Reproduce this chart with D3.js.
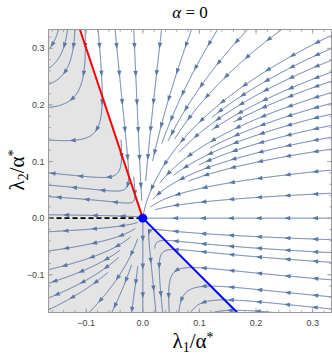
<!DOCTYPE html>
<html>
<head>
<meta charset="utf-8">
<script src="https://cdn.jsdelivr.net/npm/d3@7"></script>
<style>
  body { margin: 0; background: #fff; }
  svg { display: block; }
</style>
</head>
<body>
<div id="chart"></div>
<script>
// 流线图：λ1/α* 与 λ2/α* 的相图 (α = 0)

const DOMAIN = [-1 / 6, 1 / 3];
const xTicks = [-0.1, 0.0, 0.1, 0.2, 0.3];
const yTicks = [-0.1, 0.0, 0.1, 0.2, 0.3];
const tickLabels = ['−0.1', '0.0', '0.1', '0.2', '0.3'];

// 向量场系数: dλ1 = -λ1(a λ1 + λ2), dλ2 = -λ2(λ1 + λ2)
const fieldA = 3;

// 边界线
const redLine = [[0, 0], [-1 / 9, 1 / 3]];
const blueLine = [[0, 0], [1 / 6, -1 / 6]];
const dashedLine = [[-1 / 6, 0], [0, 0]];

// 流线种子点
const axisSeeds = [[0.333, 0.0], [0.0, -0.166]];
const topSeeds = [[-0.149, 0.333], [-0.133, 0.333], [-0.120, 0.333], [-0.104, 0.26],
    [-0.079, 0.333], [-0.049, 0.333], [-0.016, 0.333], [0.030, 0.306],
    [0.086, 0.333], [0.132, 0.333], [0.185, 0.333], [0.245, 0.333]];
const rightSeedY = [0.323, 0.300, 0.279, 0.258, 0.242, 0.222, 0.203, 0.184, 0.164,
    0.143, 0.122, 0.085, 0.044, -0.038, -0.061, -0.078, -0.109, -0.139];
const leftSeedY = [0.080, 0.053, 0.038, 0.006, -0.024, -0.058, -0.091, -0.115, -0.141, -0.162];
const bottomSeedX = [-0.095, -0.055, -0.020, 0.025, 0.052, 0.065, 0.085, 0.124];

const W = 332, H = 357;
const x = d3.scaleLinear().domain(DOMAIN).range([48.5, 331.5]);
const y = d3.scaleLinear().domain(DOMAIN).range([312.5, 29.5]);

function field(a, b) {
    return [-a * (fieldA * a + b), -b * (a + b)];
}

function inside(p) {
    const e = 1e-4;
    return p[0] >= DOMAIN[0] - e && p[0] <= DOMAIN[1] + e && p[1] >= DOMAIN[0] - e && p[1] <= DOMAIN[1] + e;
}

function dir(p, sgn) {
    const f = field(p[0], p[1]);
    const n = Math.hypot(f[0], f[1]);
    if (n < 1e-12) return null;
    return [sgn * f[0] / n, sgn * f[1] / n];
}

// 已绘制流线的占用网格，用于在流线过于接近时停止
const CELL = 6;
const SEP = 5;
const grid = new Map();
function key(i, j) { return i + ',' + j; }
function tooClose(p) {
    const X = x(p[0]), Y = y(p[1]);
    const i = Math.floor(X / CELL), j = Math.floor(Y / CELL);
    for (let a = -1; a <= 1; a++) {
        for (let b = -1; b <= 1; b++) {
            const list = grid.get(key(i + a, j + b));
            if (!list) continue;
            for (const q of list) {
                if (Math.hypot(q[0] - X, q[1] - Y) < SEP) return true;
            }
        }
    }
    return false;
}
function addToGrid(line) {
    line.forEach(p => {
        const X = x(p[0]), Y = y(p[1]);
        const k = key(Math.floor(X / CELL), Math.floor(Y / CELL));
        if (!grid.has(k)) grid.set(k, []);
        grid.get(k).push([X, Y]);
    });
}

function trace(seed, sgn) {
    const pts = [];
    let p = seed.slice();
    const h = 0.0012;
    for (let i = 0; i < 4000; i++) {
        if (Math.hypot(p[0], p[1]) < 0.008) break;
        const d1 = dir(p, sgn);
        if (!d1) break;
        const mid = [p[0] + d1[0] * h / 2, p[1] + d1[1] * h / 2];
        const d2 = dir(mid, sgn);
        if (!d2) break;
        const q = [p[0] + d2[0] * h, p[1] + d2[1] * h];
        if (!inside(q) || tooClose(q)) break;
        pts.push(q);
        p = q;
    }
    return pts;
}

function streamline(seed) {
    if (tooClose(seed)) return [];
    const back = trace(seed, -1).reverse();
    const fwd = trace(seed, 1);
    const l = back.concat([seed], fwd);
    addToGrid(l);
    return l;
}

const seeds = []
    .concat(axisSeeds)
    .concat(rightSeedY.map(v => [DOMAIN[1], v]))
    .concat(topSeeds)
    .concat(leftSeedY.map(v => [DOMAIN[0], v]))
    .concat(bottomSeedX.map(v => [v, DOMAIN[0]]));

const lines = seeds.map(streamline).filter(l => l.length > 6);

const svg = d3.select('#chart').append('svg')
    .attr('width', W)
    .attr('height', H);

svg.append('clipPath').attr('id', 'clip')
    .append('rect')
    .attr('x', x(DOMAIN[0])).attr('y', y(DOMAIN[1]))
    .attr('width', x(DOMAIN[1]) - x(DOMAIN[0]))
    .attr('height', y(DOMAIN[0]) - y(DOMAIN[1]));

const plot = svg.append('g').attr('clip-path', 'url(#clip)');

// 灰色区域
const grayPoly = [[DOMAIN[0], DOMAIN[1]], redLine[1], [0, 0], blueLine[1], [DOMAIN[0], DOMAIN[0]]];
plot.append('path')
    .attr('d', 'M' + grayPoly.map(p => [x(p[0]), y(p[1])].join(',')).join('L') + 'Z')
    .attr('fill', '#e4e4e4');

// 流线
const lineGen = d3.line().x(d => x(d[0])).y(d => y(d[1]));
const streamColor = '#5b78a6';

plot.selectAll('.stream')
    .data(lines)
    .enter()
    .append('path')
    .attr('class', 'stream')
    .attr('d', lineGen)
    .attr('fill', 'none')
    .attr('stroke', streamColor)
    .attr('stroke-width', 1);

// 箭头
const arrows = [];
lines.forEach(l => {
    const px = l.map(p => [x(p[0]), y(p[1])]);
    let acc = 0;
    let next = 16;
    for (let i = 1; i < px.length; i++) {
        const seg = Math.hypot(px[i][0] - px[i - 1][0], px[i][1] - px[i - 1][1]);
        acc += seg;
        if (acc >= next && i < px.length - 4) {
            const j = Math.min(i + 2, px.length - 1);
            const k = Math.max(i - 2, 0);
            const dx = px[j][0] - px[k][0], dy = px[j][1] - px[k][1];
            const n = Math.hypot(dx, dy) || 1;
            arrows.push({ p: px[i], u: [dx / n, dy / n] });
            next += 28;
        }
    }
});

plot.selectAll('.arrow')
    .data(arrows)
    .enter()
    .append('path')
    .attr('class', 'arrow')
    .attr('d', a => {
        const [ux, uy] = a.u;
        const [cx, cy] = a.p;
        const tip = [cx + ux * 3, cy + uy * 3];
        const b1 = [cx - ux * 3 - uy * 2.2, cy - uy * 3 + ux * 2.2];
        const b2 = [cx - ux * 3 + uy * 2.2, cy - uy * 3 - ux * 2.2];
        return `M${tip}L${b1}L${b2}Z`;
    })
    .attr('fill', streamColor);

// 边界线
plot.append('path')
    .attr('d', lineGen(dashedLine))
    .attr('stroke', '#000')
    .attr('stroke-width', 1.6)
    .attr('stroke-dasharray', '5,3')
    .attr('fill', 'none');

plot.append('path')
    .attr('d', lineGen(redLine))
    .attr('stroke', '#ff0000')
    .attr('stroke-width', 2)
    .attr('fill', 'none');

plot.append('path')
    .attr('d', lineGen(blueLine))
    .attr('stroke', '#0000ff')
    .attr('stroke-width', 2)
    .attr('fill', 'none');

svg.append('circle')
    .attr('cx', x(0)).attr('cy', y(0))
    .attr('r', 4.5)
    .attr('fill', '#0000ff');

// 边框与刻度
const frame = svg.append('g');
const frameColor = '#9a9a9a';
frame.append('rect')
    .attr('x', x(DOMAIN[0])).attr('y', y(DOMAIN[1]))
    .attr('width', x(DOMAIN[1]) - x(DOMAIN[0]))
    .attr('height', y(DOMAIN[0]) - y(DOMAIN[1]))
    .attr('fill', 'none')
    .attr('stroke', frameColor)
    .attr('stroke-width', 1);

const minor = d3.range(-0.16, 0.34, 0.02).filter(v => v >= DOMAIN[0] && v <= DOMAIN[1]);
function tickLines(vals, len) {
    vals.forEach(v => {
        const X = x(v), Y = y(v);
        frame.append('line').attr('x1', X).attr('x2', X).attr('y1', y(DOMAIN[0])).attr('y2', y(DOMAIN[0]) - len);
        frame.append('line').attr('x1', X).attr('x2', X).attr('y1', y(DOMAIN[1])).attr('y2', y(DOMAIN[1]) + len);
        frame.append('line').attr('y1', Y).attr('y2', Y).attr('x1', x(DOMAIN[0])).attr('x2', x(DOMAIN[0]) + len);
        frame.append('line').attr('y1', Y).attr('y2', Y).attr('x1', x(DOMAIN[1])).attr('x2', x(DOMAIN[1]) - len);
    });
}
tickLines(xTicks, 4.5);
tickLines(minor, 2.5);
frame.selectAll('line').attr('stroke', frameColor).attr('stroke-width', 0.8);

const tickFont = 'Liberation Sans, Arial, sans-serif';
frame.selectAll('.xl')
    .data(xTicks)
    .enter()
    .append('text')
    .attr('x', d => x(d))
    .attr('y', y(DOMAIN[0]) + 13)
    .attr('text-anchor', 'middle')
    .style('font-family', tickFont)
    .style('font-size', '9px')
    .style('fill', '#444')
    .text((d, i) => tickLabels[i]);

frame.selectAll('.yl')
    .data(yTicks)
    .enter()
    .append('text')
    .attr('x', x(DOMAIN[0]) - 4)
    .attr('y', d => y(d) + 3)
    .attr('text-anchor', 'end')
    .style('font-family', tickFont)
    .style('font-size', '9px')
    .style('fill', '#444')
    .text((d, i) => tickLabels[i]);

// 标题与轴标签
const serif = 'Liberation Serif, DejaVu Serif, serif';
const title = svg.append('text')
    .attr('x', 190).attr('y', 18)
    .attr('text-anchor', 'middle')
    .style('font-family', serif)
    .style('font-size', '17px');
title.append('tspan').style('font-style', 'italic').text('α');
title.append('tspan').text(' = 0');

function axisLabel(g, sub) {
    g.append('tspan').text('λ');
    g.append('tspan').attr('baseline-shift', '-25%').style('font-size', '14px').text(sub);
    g.append('tspan').text('/α');
    g.append('tspan').attr('baseline-shift', '40%').style('font-size', '14px').text('*');
}

const xl = svg.append('text')
    .attr('x', 193).attr('y', 348)
    .attr('text-anchor', 'middle')
    .style('font-family', serif)
    .style('font-size', '21px');
axisLabel(xl, '1');

const yl = svg.append('text')
    .attr('transform', 'translate(24,170) rotate(-90)')
    .attr('text-anchor', 'middle')
    .style('font-family', serif)
    .style('font-size', '21px');
axisLabel(yl, '2');
</script>
</body>
</html>
